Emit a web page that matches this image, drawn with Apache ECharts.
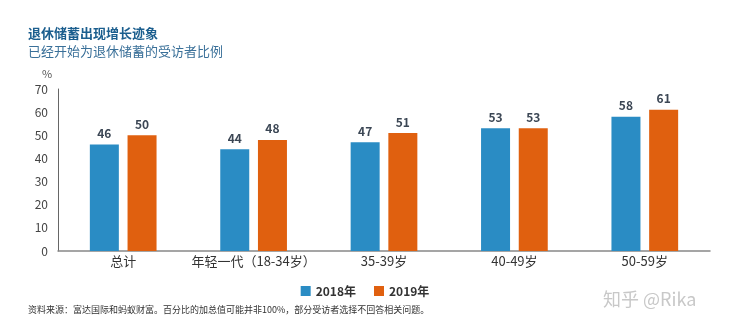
<!DOCTYPE html>
<html><head><meta charset="utf-8">
<script src="https://cdn.jsdelivr.net/npm/echarts@6/dist/echarts.min.js"></script>
<style>html,body{margin:0;padding:0;background:#fff}#c{width:730px;height:327px}</style>
</head><body><div id="c"></div>
<script>
const categories = ['总计', '年轻一代（18-34岁）', '35-39岁', '40-49岁', '50-59岁'];
const seriesNames = ['2018年', '2019年'];
const values2018 = [46, 44, 47, 53, 58];
const values2019 = [50, 48, 51, 53, 61];
const yTicks = [0, 10, 20, 30, 40, 50, 60, 70];

const chart = echarts.init(document.getElementById('c'));
const font = '"Noto Sans CJK SC", "Noto Sans", sans-serif';
const labelStyle = {show: true, position: 'top', distance: 5, color: '#3b4654', fontWeight: 'bold', fontSize: 12, fontFamily: font};
chart.setOption({
  animation: false,
  textStyle: {fontFamily: font},
  title: [
    {text: '退休储蓄出现增长迹象', left: 23, top: 22, textStyle: {fontSize: 13, fontWeight: 'bold', color: '#1b5e8e', fontFamily: font}},
    {text: '已经开始为退休储蓄的受访者比例', left: 23, top: 40, textStyle: {fontSize: 13, fontWeight: 'normal', color: '#3a7099', fontFamily: font}},
    {text: '%', left: 37, top: 63, textStyle: {fontSize: 11, fontWeight: 'normal', color: '#555', fontFamily: font}},
    {text: '资料来源：富达国际和蚂蚁财富。百分比的加总值可能并非100%，部分受访者选择不回答相关问题。', left: 23, top: 300, textStyle: {fontSize: 9, fontWeight: 'normal', color: '#333', fontFamily: font}},
    {text: '知乎 @Rika', left: 598, top: 285, textStyle: {fontSize: 18, fontWeight: 'normal', color: '#c8c8c8', fontFamily: font}}
  ],
  legend: {
    data: seriesNames, left: 'center', top: 280, itemWidth: 10, itemHeight: 10, itemGap: 18, icon: 'rect',
    textStyle: {fontSize: 12, fontWeight: 'bold', color: '#333', fontFamily: font}
  },
  grid: {left: 58, right: 20, top: 89, bottom: 76, containLabel: false},
  xAxis: {
    type: 'category', data: categories,
    axisLine: {lineStyle: {color: '#888', width: 1.5}},
    axisTick: {show: false},
    axisLabel: {interval: 0, fontSize: 13, color: '#333', margin: 4, fontFamily: font}
  },
  yAxis: {
    type: 'value', min: 0, max: 70, interval: 10,
    axisLine: {show: true, lineStyle: {color: '#666', width: 1}},
    axisTick: {show: false},
    splitLine: {show: false},
    axisLabel: {fontSize: 12, color: '#444', margin: 10, fontFamily: font,
      formatter: v => yTicks.includes(v) ? String(v) : ''}
  },
  series: [
    {name: seriesNames[0], type: 'bar', data: values2018, barWidth: 29, barGap: '30%', itemStyle: {color: '#2a8cc4'}, label: labelStyle},
    {name: seriesNames[1], type: 'bar', data: values2019, barWidth: 29, itemStyle: {color: '#e0600f'}, label: labelStyle}
  ]
});
</script></body></html>
